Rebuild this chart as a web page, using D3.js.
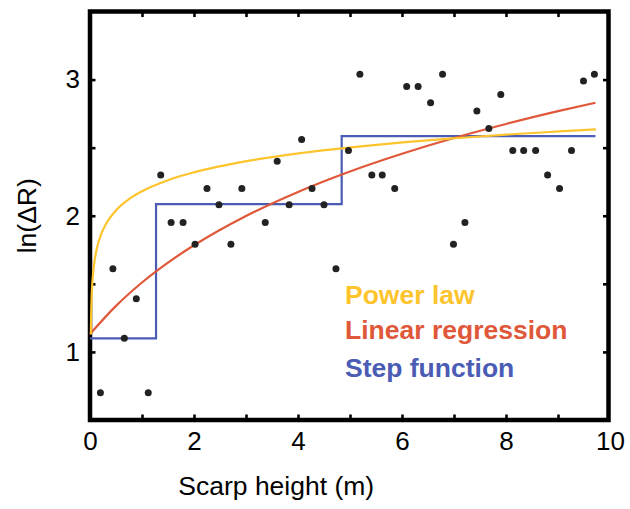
<!DOCTYPE html>
<html>
<head>
<meta charset="utf-8">
<script src="https://cdn.jsdelivr.net/npm/d3@7/dist/d3.min.js"></script>
<style>
  html, body { margin: 0; padding: 0; background: #ffffff; }
  svg { display: block; }
  text { font-family: "Liberation Sans", Arial, Helvetica, sans-serif; }
</style>
</head>
<body>
<svg id="chart" width="630" height="509"></svg>
<script>
// ---- Data ----
const pointX = [0.20, 1.12, 0.44, 0.66, 0.89, 1.36, 1.56, 1.79, 2.02, 2.25, 2.48, 2.71, 2.92,
  3.37, 3.60, 3.83, 4.07, 4.27, 4.50, 4.73, 4.97, 5.19, 5.42, 5.62, 5.86, 6.09, 6.31, 6.55,
  6.78, 6.99, 7.21, 7.44, 7.67, 7.90, 8.13, 8.34, 8.57, 8.80, 9.03, 9.26, 9.49, 9.70];
const pointY = [0.70, 0.70, 1.61, 1.10, 1.39, 2.30, 1.95, 1.95, 1.79, 2.20, 2.08, 1.79, 2.20,
  1.95, 2.40, 2.08, 2.56, 2.20, 2.08, 1.61, 2.48, 3.04, 2.30, 2.30, 2.20, 2.95, 2.95, 2.83,
  3.04, 1.79, 1.95, 2.77, 2.64, 2.89, 2.48, 2.48, 2.48, 2.30, 2.20, 2.48, 2.99, 3.04];

// Power law curve (yellow)
const powerX = [0.005, 0.01, 0.02, 0.03, 0.05, 0.08, 0.12, 0.2, 0.3, 0.5, 0.75, 1, 1.5, 2, 3, 4, 5, 6, 7, 8, 9, 9.72];
const powerY = [1.128, 1.266, 1.404, 1.484, 1.586, 1.679, 1.760, 1.862, 1.942, 2.044, 2.125, 2.182,
  2.263, 2.320, 2.401, 2.458, 2.502, 2.539, 2.569, 2.596, 2.619, 2.635];

// Linear regression curve (red)
const linX = [0, 0.5, 1, 1.5, 2, 3, 4, 5, 6, 7, 8, 9, 9.72];
const linY = [1.131, 1.338, 1.510, 1.656, 1.783, 1.998, 2.175, 2.325, 2.455, 2.571, 2.674, 2.768, 2.830];

// Step function (blue): step start positions and levels
const stepX = [0, 1.27, 4.84, 9.72];
const stepY = [1.10, 2.085, 2.585, 2.585];

const xTicks = [0, 1, 2, 3, 4, 5, 6, 7, 8, 9, 10];
const xTickLabels = ["0", "", "2", "", "4", "", "6", "", "8", "", "10"];
const yTicks = [0.5, 1, 1.5, 2, 2.5, 3, 3.5];
const yTickLabels = ["", "1", "", "2", "", "3", ""];

const legendLabels = ["Power law", "Linear regression", "Step function"];
const colors = { power: "#FDC42D", lin: "#E0583A", step: "#4A5CB4" };
const legendColors = [colors.power, colors.lin, colors.step];

const xTitle = "Scarp height (m)";
const yTitle = "ln(ΔR)";

// ---- Layout ----
const svg = d3.select("#chart");
const x = d3.scaleLinear().domain([0, 10]).range([90, 610]);
const y = d3.scaleLinear().domain([0.5, 3.5]).range([420, 11.5]);
const x0 = x(0), x1 = 608.5, yTop = y(3.5), yBot = y(0.5);

// Frame
svg.append("rect")
  .attr("x", x0).attr("y", yTop).attr("width", x1 - x0).attr("height", yBot - yTop)
  .attr("fill", "none").attr("stroke", "#000").attr("stroke-width", 4.5);

// Axes (ticks point inward)
const tickLen = 5.5;
const axB = svg.append("g").attr("transform", `translate(0,${yBot})`)
  .call(d3.axisBottom(x).tickValues(xTicks).tickSizeInner(-tickLen).tickSizeOuter(0).tickPadding(11.5)
    .tickFormat((d, i) => xTickLabels[i]));
const axT = svg.append("g").attr("transform", `translate(0,${yTop})`)
  .call(d3.axisTop(x).tickValues(xTicks.slice(1, -1)).tickSizeInner(-tickLen).tickSizeOuter(0).tickFormat(""));
const axL = svg.append("g").attr("transform", `translate(${x0},0)`)
  .call(d3.axisLeft(y).tickValues(yTicks.slice(1, -1)).tickSizeInner(-tickLen).tickSizeOuter(0).tickPadding(10)
    .tickFormat((d, i) => yTickLabels[i + 1]));
const axR = svg.append("g").attr("transform", `translate(${x1},0)`)
  .call(d3.axisRight(y).tickValues(yTicks.slice(1, -1)).tickSizeInner(-tickLen).tickSizeOuter(0).tickFormat(""));
axB.selectAll(".tick").filter(d => d === 0 || d === 10).select("line").remove();
[axB, axT, axL, axR].forEach(a => {
  a.select(".domain").remove();
  a.selectAll(".tick line").attr("stroke", "#000").attr("stroke-width", 2.6);
  a.selectAll(".tick text").attr("fill", "#000").attr("font-size", 26)
    .attr("font-family", '"Liberation Sans", Arial, sans-serif');
});

// Lines (drawn over the frame, like the reference)
const line = d3.line().x(d => x(d[0])).y(d => y(d[1]));
svg.append("path")
  .datum(stepX.map((v, i) => [v, stepY[i]]))
  .attr("d", line.curve(d3.curveStepAfter))
  .attr("fill", "none").attr("stroke", colors.step).attr("stroke-width", 2.2);
svg.append("path")
  .datum(linX.map((v, i) => [v, linY[i]]))
  .attr("d", d3.line().x(d => x(d[0])).y(d => y(d[1])).curve(d3.curveMonotoneX))
  .attr("fill", "none").attr("stroke", colors.lin).attr("stroke-width", 2.2);
svg.append("path")
  .datum(powerX.map((v, i) => [v, powerY[i]]))
  .attr("d", d3.line().x(d => x(d[0]) + 0.6).y(d => y(d[1])).curve(d3.curveMonotoneX))
  .attr("fill", "none").attr("stroke", colors.power).attr("stroke-width", 2.2);

// Points
svg.append("g").selectAll("circle")
  .data(pointX.map((v, i) => [v, pointY[i]]))
  .join("circle")
  .attr("cx", d => x(d[0])).attr("cy", d => y(d[1]))
  .attr("r", 3.5).attr("fill", "#222222");

// Axis titles
svg.append("text").attr("x", (x0 + x1) / 2 - 73).attr("y", 495)
  .attr("font-size", 26.5).attr("fill", "#000").attr("text-anchor", "middle")
  .text(xTitle);
svg.append("text").attr("transform", `translate(36,${(yTop + yBot) / 2}) rotate(-90)`)
  .attr("font-size", 26.5).attr("fill", "#000").attr("text-anchor", "middle")
  .text(yTitle);

// Legend
const legendBaselines = [304, 339, 377];
svg.append("g").selectAll("text")
  .data(legendLabels)
  .join("text")
  .attr("x", 345).attr("y", (d, i) => legendBaselines[i])
  .attr("font-size", 26.5).attr("font-weight", "bold")
  .attr("fill", (d, i) => legendColors[i])
  .text(d => d);
</script>
</body>
</html>
